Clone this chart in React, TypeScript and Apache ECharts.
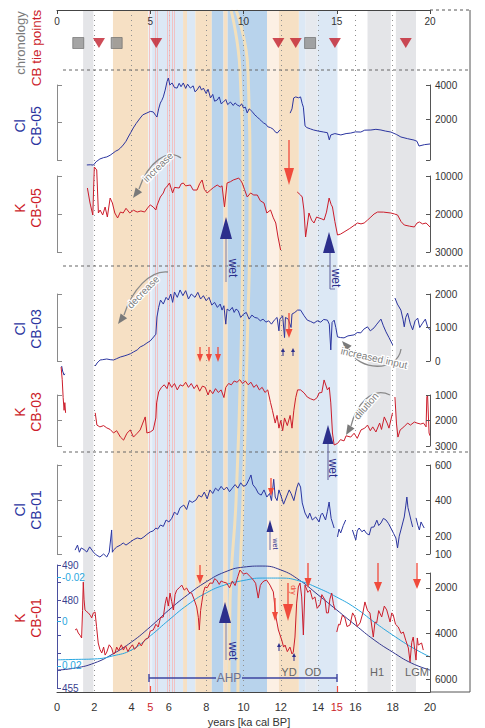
import React, { useEffect, useRef } from "react";
import * as echarts from "echarts";

const FONT = "'Liberation Sans', Arial, Helvetica, sans-serif";
const BLUE = "#2b35a0";
const NAVY = "#2c2f8c";
const RED = "#cc1d2b";
const LRED = "#f04b3c";
const CYAN = "#29a7e0";

// ---------- DATA ----------
const chronoSquares = [1.14, 3.2, 13.57];
const chronoTriangles = [2.25, 5.32, 11.87, 12.8, 14.9, 18.7];

const bands: [number, number, string][] = [
  [1.4, 1.95, "gray"], [3.0, 4.9, "orange"], [4.9, 5.1, "paleblue"], [5.1, 6.76, "lightblue"],
  [6.76, 6.97, "orange"], [6.97, 7.42, "lightblue"], [7.42, 8.3, "orange"], [8.3, 8.93, "blue"],
  [8.93, 9.15, "orange"], [9.15, 11.26, "blue"], [11.26, 11.9, "paleorange"], [11.9, 12.97, "orange"],
  [12.97, 13.33, "lightblue"], [13.33, 13.96, "lightgray"], [13.96, 15.04, "lightblue"],
  [16.65, 17.9, "gray"], [18.17, 19.25, "gray"],
];
const evenYears = [2, 4, 6, 8, 10, 12, 14, 16, 18];
const pinkLines = [4.96, 5.27, 5.36, 5.92, 6.03, 6.16, 6.3];
const stripe1 = [[9.33, 0], [9.81, 0.088], [9.97, 0.28], [9.87, 0.5], [9.6, 0.72], [9.28, 0.865], [9.22, 1]];
const stripe2 = [[9.6, 0], [10.24, 0.088], [10.35, 0.28], [10.19, 0.5], [9.97, 0.72], [9.76, 0.865], [9.7, 1]];

const clCB05: any[] = [[1.6,-690],[1.8,-680],[1.95,-700],[2.1,-500],[2.3,-340],[2.5,-260],[2.67,-220],[2.85,-120],[3.0,0],[3.15,120],[3.28,190],[3.4,300],[3.55,480],[3.7,700],[3.82,950],[3.95,1200],[4.09,1480],[4.25,1750],[4.46,2060],[4.6,2250],[4.82,2360],[5.0,2450],[5.16,2420],[5.3,2200],[5.36,2120],[5.45,2600],[5.54,2940],[5.62,3100],[5.7,3300],[5.8,3700],[5.9,4200],[5.97,4410],[6.05,4000],[6.17,4120],[6.3,3850],[6.44,3820],[6.55,4100],[6.65,3900],[6.77,4120],[6.9,3800],[7.0,4050],[7.15,3820],[7.3,3950],[7.4,3600],[7.51,3710],[7.65,3950],[7.75,3700],[7.85,3820],[8.0,3500],[8.1,3750],[8.23,3240],[8.35,3450],[8.45,3050],[8.59,3120],[8.7,3300],[8.8,2900],[8.92,3000],[9.05,3150],[9.15,2850],[9.3,3000],[9.45,2800],[9.55,2950],[9.66,2830],[9.8,2750],[9.9,2900],[10.0,2650],[10.1,2700],[10.2,2360],[10.3,2600],[10.38,2530],[10.5,2400],[10.6,2250],[10.74,2120],[10.85,2000],[10.95,1900],[11.08,1770],[11.2,1700],[11.3,1550],[11.45,1500],[11.6,1400],[11.7,1250],[11.81,1180],[11.9,1300],[11.99,1400],[12.2,"-"],[12.5,2350],[12.6,2600],[12.69,3240],[12.8,3300],[12.95,3250],[13.06,3300],[13.15,2900],[13.21,2700],[13.3,1600],[13.4,1500],[13.6,1420],[13.76,1360],[14.0,1300],[14.3,1240],[14.5,1200],[14.6,780],[14.68,1070],[14.9,1150],[15.22,1070],[15.5,1150],[15.75,1180],[16.0,1250],[16.29,1240],[16.5,1350],[16.83,1360],[17.1,1400],[17.37,1360],[17.6,1300],[17.9,1240],[18.2,1100],[18.44,950],[18.8,850],[19.14,770],[19.3,700],[19.41,420],[19.7,500],[20.0,540]];

const kCB05: any[] = [[1.63,13160],[1.77,17100],[1.92,20260],[2.0,7630],[2.13,8420],[2.22,19740],[2.31,18950],[2.45,20260],[2.58,18160],[2.7,20790],[2.85,15790],[2.97,17100],[3.1,19740],[3.25,21050],[3.4,19480],[3.55,19740],[3.7,18500],[3.9,19740],[4.1,19000],[4.3,19480],[4.5,19200],[4.7,19480],[4.9,18160],[5.0,17600],[5.16,18160],[5.3,18950],[5.36,17800],[5.54,15530],[5.7,14470],[5.8,13200],[5.88,12900],[6.03,11840],[6.2,14470],[6.3,13000],[6.55,13160],[6.65,12100],[6.77,11840],[6.9,12600],[7.15,12370],[7.3,13700],[7.51,13690],[7.65,12000],[7.78,11050],[7.9,13500],[8.05,14470],[8.23,13690],[8.4,13000],[8.59,12370],[8.75,12900],[8.85,12600],[8.98,18160],[9.12,11840],[9.3,11500],[9.45,11050],[9.6,10800],[9.74,10530],[9.85,11200],[9.93,11840],[10.05,13500],[10.2,15530],[10.38,14470],[10.55,15000],[10.74,15000],[10.9,16500],[11.1,17110],[11.25,19740],[11.45,18950],[11.6,21000],[11.73,22370],[11.85,26050],[11.99,29480],[12.4,"-"],[12.88,14210],[13.06,15000],[13.15,15530],[13.24,18950],[13.33,26050],[13.51,19740],[13.65,21600],[13.78,22370],[13.92,20800],[14.05,21050],[14.2,21300],[14.32,21580],[14.45,19500],[14.59,15800],[14.7,17500],[14.77,18160],[14.9,22000],[15.04,25530],[15.2,25300],[15.39,24740],[15.7,23800],[16.11,22370],[16.3,22600],[16.47,22370],[16.65,21600],[16.83,20790],[17.0,20000],[17.19,19480],[17.5,19500],[17.9,19740],[18.1,20000],[18.26,20260],[18.45,22000],[18.62,22900],[18.9,23200],[19.16,23420],[19.3,22400],[19.43,22100],[19.6,22600],[19.79,22370],[20.0,23420]];

const clCB03: any[] = [[0.25,-150],[0.3,-300],[0.38,-420],[0.42,-380],[1.0,"-"],[2.05,-150],[2.15,-60],[2.31,30],[2.45,40],[2.67,60],[2.85,40],[3.03,30],[3.2,70],[3.4,119],[3.6,150],[3.76,179],[3.95,220],[4.1,269],[4.3,330],[4.46,418],[4.65,470],[4.82,537],[5.0,600],[5.18,716],[5.3,800],[5.36,1313],[5.45,1600],[5.55,1820],[5.7,1700],[5.85,1900],[5.97,1820],[6.1,2000],[6.2,1750],[6.3,2060],[6.45,1900],[6.6,2120],[6.75,1950],[6.9,2100],[7.05,1850],[7.2,2000],[7.4,1900],[7.55,2050],[7.7,1850],[7.85,1950],[8.0,1800],[8.15,1900],[8.3,1670],[8.45,1750],[8.6,1600],[8.75,1700],[8.85,1520],[8.95,1650],[9.05,1100],[9.12,1550],[9.25,1500],[9.4,1600],[9.5,1450],[9.6,1550],[9.72,1500],[9.85,1300],[10.0,1400],[10.15,1450],[10.3,1250],[10.45,1370],[10.6,1300],[10.75,1280],[10.9,1200],[11.05,1250],[11.2,1160],[11.35,1200],[11.5,1100],[11.65,1220],[11.8,1300],[11.9,900],[11.95,1250],[12.1,1350],[12.2,700],[12.25,1300],[12.4,1250],[12.55,1000],[12.6,1400],[12.75,1450],[12.9,1520],[13.06,1520],[13.25,1350],[13.42,1220],[13.6,1180],[13.78,1130],[13.95,1200],[14.14,1160],[14.3,1240],[14.5,1220],[14.6,1100],[14.68,330],[14.75,1150],[14.86,1220],[14.95,1000],[15.04,720],[15.2,700],[15.39,690],[15.6,750],[15.93,780],[16.1,850],[16.29,840],[16.45,950],[16.65,1020],[16.8,900],[17.0,990],[17.15,1100],[17.37,1250],[17.5,1050],[17.64,870],[17.8,700],[18.0,480],[18.06,"-"],[18.12,1880],[18.25,1700],[18.44,1520],[18.55,1250],[18.62,1020],[18.7,1300],[18.8,1430],[18.95,1100],[19.07,930],[19.2,1200],[19.34,1280],[19.45,1000],[19.6,1130],[19.75,1250],[19.87,1020],[20.0,930]];

const kCB03: any[] = [[0.22,-100],[0.28,400],[0.33,1100],[0.38,1600],[0.42,1300],[0.46,1700],[1.0,"-"],[2.05,1700],[2.14,2180],[2.3,2250],[2.5,2200],[2.67,2290],[2.85,2350],[3.03,2490],[3.2,2400],[3.4,2650],[3.57,2770],[3.75,2500],[3.93,2370],[4.1,2650],[4.3,2500],[4.46,2370],[4.6,2100],[4.73,1860],[4.82,2490],[5.0,2450],[5.16,2370],[5.3,1900],[5.34,1310],[5.45,880],[5.6,700],[5.75,600],[5.9,750],[6.0,500],[6.15,700],[6.3,550],[6.45,800],[6.6,600],[6.75,650],[6.9,500],[7.05,700],[7.2,550],[7.35,750],[7.5,600],[7.65,850],[7.8,650],[7.95,700],[8.1,1000],[8.2,800],[8.35,950],[8.5,750],[8.65,900],[8.8,800],[8.95,1100],[9.05,700],[9.2,550],[9.35,600],[9.5,450],[9.65,500],[9.8,400],[9.95,550],[10.1,450],[10.25,600],[10.4,500],[10.55,700],[10.7,600],[10.85,800],[11.0,700],[11.15,900],[11.3,800],[11.45,1300],[11.55,1600],[11.7,2100],[11.8,1800],[11.9,2300],[12.0,2000],[12.1,2400],[12.2,1900],[12.35,2200],[12.5,1800],[12.6,2300],[12.7,1600],[12.8,1100],[12.9,800],[13.06,800],[13.25,920],[13.42,1080],[13.6,1150],[13.78,1200],[13.95,1100],[14.05,920],[14.2,900],[14.32,410],[14.5,800],[14.6,700],[14.68,1310],[14.77,2490],[14.86,2960],[15.04,2900],[15.2,2750],[15.39,2800],[15.5,2600],[15.75,2650],[15.93,2500],[16.1,2700],[16.3,2370],[16.5,2300],[16.65,2180],[16.8,2400],[16.93,2250],[17.1,2450],[17.3,2100],[17.4,2350],[17.55,1860],[17.7,2100],[17.8,2300],[17.99,1700],[18.06,"-"],[18.12,1080],[18.2,2100],[18.28,2650],[18.4,2370],[18.6,2250],[18.8,2100],[18.95,2180],[19.16,2060],[19.3,2100],[19.5,2140],[19.65,2100],[19.79,2250],[19.83,1080],[19.87,1000],[19.95,2490],[20.0,2600]];

const clCB01: any[] = [[0.97,122],[1.1,150],[1.2,110],[1.3,134],[1.45,125],[1.6,111],[1.75,140],[1.95,111],[2.1,95],[2.3,83],[2.5,100],[2.67,83],[2.8,110],[2.93,235],[2.97,110],[3.03,122],[3.2,139],[3.4,150],[3.55,162],[3.7,150],[3.93,167],[4.1,180],[4.3,190],[4.5,185],[4.66,196],[4.82,210],[5.0,224],[5.16,230],[5.3,246],[5.4,240],[5.55,263],[5.7,255],[5.85,291],[6.0,280],[6.15,300],[6.3,336],[6.45,320],[6.6,360],[6.8,375],[6.95,350],[7.1,400],[7.25,390],[7.45,403],[7.6,430],[7.75,420],[7.9,448],[8.05,410],[8.2,460],[8.35,440],[8.5,470],[8.65,455],[8.8,480],[8.95,460],[9.1,476],[9.25,450],[9.4,470],[9.55,490],[9.7,470],[9.85,500],[10.0,480],[10.15,488],[10.3,520],[10.4,544],[10.5,490],[10.65,470],[10.8,440],[10.95,431],[11.1,460],[11.25,420],[11.4,440],[11.5,400],[11.62,520],[11.7,420],[11.8,400],[11.9,460],[12.0,430],[12.15,380],[12.3,420],[12.45,460],[12.55,440],[12.7,400],[12.85,470],[12.95,500],[13.06,476],[13.15,387],[13.3,330],[13.45,300],[13.55,330],[13.69,291],[13.87,308],[14.05,280],[14.15,320],[14.23,330],[14.4,291],[14.5,340],[14.59,392],[14.7,300],[14.86,246],[14.95,"-"],[15.04,196],[15.12,240],[15.21,218],[15.35,260],[15.48,291],[15.6,"-"],[15.84,235],[15.95,200],[16.02,179],[16.1,230],[16.2,246],[16.35,225],[16.47,235],[16.6,215],[16.74,207],[16.85,250],[17.0,252],[17.15,290],[17.25,260],[17.37,274],[17.5,300],[17.64,291],[17.78,270],[17.9,246],[18.05,215],[18.17,190],[18.26,134],[18.35,200],[18.44,235],[18.55,280],[18.62,308],[18.7,370],[18.76,420],[18.82,360],[18.89,330],[18.98,290],[19.07,252],[19.15,"-"],[19.25,303],[19.35,260],[19.43,235],[19.52,280],[19.6,263],[19.69,246]];

const kCB01: any[] = [[0.97,3850],[1.05,3800],[1.14,3980],[1.25,4100],[1.32,4200],[1.37,3000],[1.41,1750],[1.45,2500],[1.5,2970],[1.6,3050],[1.68,3100],[1.78,3200],[1.86,3320],[1.95,3100],[2.04,3060],[2.12,3700],[2.21,4420],[2.3,4700],[2.4,4860],[2.5,4600],[2.58,4950],[2.67,4820],[2.8,4500],[2.93,4640],[3.02,4900],[3.11,4860],[3.2,4600],[3.3,4750],[3.45,4500],[3.56,4730],[3.68,4550],[3.8,4800],[3.91,4640],[4.05,4500],[4.15,4700],[4.27,4600],[4.4,4400],[4.52,4550],[4.63,4380],[4.75,4250],[4.9,4200],[5.0,3900],[5.16,3850],[5.3,3600],[5.43,3720],[5.55,3300],[5.7,3280],[5.8,2700],[5.88,2400],[5.97,2800],[6.06,2230],[6.15,2600],[6.24,2970],[6.33,2300],[6.42,2100],[6.55,2000],[6.69,1880],[6.82,2100],[6.95,2010],[7.08,2200],[7.22,2230],[7.35,2500],[7.49,2840],[7.58,3300],[7.63,3850],[7.7,3000],[7.76,2660],[7.85,2200],[7.94,1960],[8.05,2000],[8.2,1790],[8.35,1800],[8.45,1600],[8.56,1660],[8.7,1850],[8.8,1700],[8.92,1750],[9.1,1790],[9.25,2000],[9.4,1700],[9.55,1900],[9.7,1500],[9.81,1220],[10.0,1400],[10.17,1350],[10.35,1500],[10.53,1660],[10.65,1800],[10.79,2450],[10.9,1900],[10.98,1790],[11.1,1700],[11.24,1660],[11.42,1880],[11.6,2180],[11.74,3280],[11.87,3850],[12.05,4290],[12.15,4600],[12.23,4510],[12.35,4800],[12.49,4600],[12.6,4900],[12.67,4820],[12.76,4160],[12.85,2670],[12.94,1960],[13.03,1790],[13.12,2400],[13.21,4070],[13.3,1880],[13.45,2200],[13.57,2100],[13.7,2500],[13.83,2400],[13.95,2900],[14.1,2750],[14.2,2300],[14.37,2530],[14.45,3100],[14.55,3100],[14.63,2500],[14.73,2230],[14.82,2700],[14.91,2970],[14.95,"-"],[15.0,3940],[15.1,3600],[15.17,3630],[15.3,3200],[15.44,3320],[15.55,3700],[15.71,3630],[15.85,3100],[15.98,3280],[16.1,3700],[16.25,3540],[16.4,3100],[16.51,2620],[16.65,3000],[16.78,3100],[16.96,4160],[17.05,3500],[17.14,3540],[17.25,3000],[17.41,3280],[17.55,2800],[17.68,2970],[17.86,3500],[17.95,3100],[18.03,3190],[18.15,3600],[18.3,3720],[18.45,4000],[18.57,3940],[18.7,4300],[18.84,4640],[18.93,5250],[19.02,4400],[19.1,4160],[19.18,4700],[19.25,5170],[19.32,4200],[19.37,4510],[19.55,4420],[19.64,4730]];

const orbitYears = [0,1,2,3,4,5,6,7,8,9,10,11,12,13,14,15,16,17,18,19,20];
const insolation = [460.1,460.7,462.1,464.7,468.1,472.4,477.2,481.5,485.2,488.0,489.4,489.7,488.6,485.7,481.5,477.2,472.9,468.7,465.2,462.1,460.1];
const precession = [0.0173,0.0171,0.0169,0.0155,0.0128,0.0065,-0.0007,-0.0075,-0.0129,-0.0165,-0.0185,-0.0196,-0.0196,-0.0183,-0.0151,-0.011,-0.0061,0.0002,0.0061,0.0115,0.016];

const topTicks = [0, 5, 10, 15, 20];
const bottomLabels = [0, 2, 4, 5, 6, 8, 10, 12, 14, 15, 16, 18, 20];

// ---------- STYLES ----------
const BAND_COLORS: Record<string, string> = {
  gray: "#e4e5e8", lightgray: "#e6e9ee", orange: "#f6e0c4", paleorange: "#fcf0e4",
  lightblue: "#dce8f5", paleblue: "#e9f1f9", blue: "#b8d3ec",
};

function rightAxis(gridIndex: number, min: number, max: number, inverse: boolean, ticks: number[], labels: number[]) {
  return {
    type: "value", gridIndex, position: "right", min, max, inverse, z: 20,
    axisLine: { show: true, onZero: false, lineStyle: { color: "#555", width: 1 } },
    axisTick: { show: true, inside: true, length: 4, customValues: ticks, lineStyle: { color: "#555" } },
    axisLabel: { show: true, customValues: labels, fontSize: 10, color: "#333", margin: 5, fontFamily: FONT, formatter: (v: number) => String(v) },
    splitLine: { show: false },
  };
}
function leftBracket(gridIndex: number, min: number, max: number, inverse: boolean, ticks: number[]) {
  return {
    type: "value", gridIndex, position: "left", min, max, inverse, z: 20,
    axisLine: { show: true, onZero: false, lineStyle: { color: "#8a8a8a", width: 1 } },
    axisTick: { show: true, inside: true, length: 5, customValues: ticks, lineStyle: { color: "#8a8a8a" } },
    axisLabel: { show: false },
    splitLine: { show: false },
  };
}

function buildGraphics() {
  const g: any[] = [];
  const line = (x1: number, y1: number, x2: number, y2: number, stroke: string, lw = 1, dash?: number[]) =>
    g.push({ type: "line", silent: true, z: 50, shape: { x1, y1, x2, y2 }, style: { stroke, lineWidth: lw, lineDash: dash } });
  const poly = (pts: number[][], fill: string) => g.push({ type: "polygon", silent: true, z: 51, shape: { points: pts }, style: { fill } });
  const text = (x: number, y: number, t: string, fill: string, size: number, rot = 0, extra: any = {}) =>
    g.push({ type: "text", silent: true, z: 52, x, y, rotation: rot, style: { text: t, fill, fontSize: size, fontFamily: FONT, align: "center", verticalAlign: "middle", ...extra } });
  const head = (tx: number, ty: number, ang: number, len: number, wid: number, fill: string) => {
    const bx = tx - len * Math.cos(ang), by = ty - len * Math.sin(ang);
    const px = -Math.sin(ang) * wid / 2, py = Math.cos(ang) * wid / 2;
    poly([[tx, ty], [bx + px, by + py], [bx - px, by - py]], fill);
  };
  const curve = (x1: number, y1: number, c1x: number, c1y: number, c2x: number, c2y: number, x2: number, y2: number) =>
    g.push({ type: "bezierCurve", silent: true, z: 50, shape: { x1, y1, cpx1: c1x, cpy1: c1y, cpx2: c2x, cpy2: c2y, x2, y2 }, style: { stroke: "#8a8a8a", lineWidth: 1.3, fill: null } });
  const redArrow = (x: number, y1: number, y2: number, hl: number, w: number) => {
    line(x, y1, x, y2 - hl + 1, LRED, 1.3);
    poly([[x - w / 2, y2 - hl], [x + w / 2, y2 - hl], [x, y2]], LRED);
  };
  const navyTri = (x: number, yTop: number, yBot: number, w: number) => poly([[x, yTop], [x - w / 2, yBot], [x + w / 2, yBot]], NAVY);
  const smallUp = (x: number, y1: number, y2: number) => { line(x, y1 + 3, x, y2, NAVY, 1); poly([[x, y1], [x - 2, y1 + 4], [x + 2, y1 + 4]], NAVY); };

  // frame
  line(430, 10, 470, 10, "#555", 1, [3, 3]);
  line(470, 10, 470, 692, "#555", 1);
  line(430, 692, 470, 692, "#555", 1);
  [70, 266, 452].forEach((y) => line(63, y, 470, y, "#666", 1.2, [3, 3]));

  // left labels
  text(20, 43, "chronology", "#7a7a7a", 13, Math.PI / 2);
  text(36, 48, "CB tie points", RED, 13.5, Math.PI / 2);
  const lab = (y: number, a: string, b: string, c: string) => { text(20, y, a, c, 14, Math.PI / 2); text(36, y, b, c, 14, Math.PI / 2); };
  lab(126, "Cl", "CB-05", BLUE);
  lab(208, "K", "CB-05", RED);
  lab(329, "Cl", "CB-03", BLUE);
  lab(412, "K", "CB-03", RED);
  lab(510, "Cl", "CB-01", BLUE);
  lab(618, "K", "CB-01", RED);

  // gray curved arrows
  curve(181, 158, 168, 148, 148, 162, 139, 189); head(133, 198, 2.2, 10, 8, "#7a7a7a");
  text(158, 167, "increase", "#808080", 10, 0.78, { stroke: "#fff", lineWidth: 2.5 });
  curve(168, 272, 150, 270, 132, 290, 124, 315); head(118, 324, 2.2, 10, 8, "#7a7a7a");
  text(143, 292, "decrease", "#808080", 10, 0.8, { stroke: "#fff", lineWidth: 2.5 });
  curve(401, 349, 398, 372, 358, 372, 349, 349); head(342, 341, -2.3, 10, 8, "#7a7a7a");
  text(374, 358, "increased input", "#808080", 10, -0.22, { stroke: "#fff", lineWidth: 2.5 });
  curve(390, 395, 372, 386, 356, 405, 351, 426); head(346, 435, 2.1, 10, 8, "#7a7a7a");
  text(366, 406, "dilution", "#808080", 10, 0.85, { stroke: "#fff", lineWidth: 2.5 });

  // navy "wet" arrows
  navyTri(226, 217, 239, 12); line(226, 239, 226, 282, "#8c8fb5", 1.2); text(233, 268, "wet", NAVY, 12, -Math.PI / 2);
  navyTri(329, 232, 253, 12); line(330, 253, 330, 289, "#6f73a8", 1.2); line(330, 289, 335, 289, "#6f73a8", 1); text(336, 278, "wet", NAVY, 12, -Math.PI / 2);
  navyTri(328, 425, 444, 11); line(328, 444, 328, 480, "#6f73a8", 1.2); text(333, 468, "wet", NAVY, 12, -Math.PI / 2);
  navyTri(225, 602, 623, 12); line(226, 623, 226, 660, "#8c8fb5", 1.2); text(233, 651, "wet", NAVY, 12, -Math.PI / 2);
  navyTri(270, 520, 532, 7); line(270, 532, 270, 550, "#6f73a8", 1); text(275, 544, "wet", NAVY, 7, -Math.PI / 2);
  smallUp(283, 348, 356); smallUp(293, 348, 356); smallUp(279, 643, 651); smallUp(294, 653, 661);

  // red arrows
  redArrow(289, 140, 185, 17, 10);
  redArrow(289, 313, 338, 9, 7);
  redArrow(200, 347, 362, 8, 6); redArrow(209, 347, 362, 8, 6); redArrow(218, 347, 362, 8, 6);
  redArrow(271, 478, 496, 8, 6);
  redArrow(200, 565, 584, 9, 7);
  redArrow(275, 598, 621, 9, 6);
  redArrow(288, 583, 621, 17, 10);
  text(293, 590, "dry", LRED, 7, -Math.PI / 2);
  redArrow(308, 563, 588, 10, 7);
  redArrow(378, 563, 592, 10, 8);
  redArrow(417, 563, 589, 10, 8);

  // period labels
  line(149, 678, 216, 678, "#3d45a0", 1.6); line(242, 678, 337, 678, "#3d45a0", 1.6);
  line(149, 674, 149, 682, "#3d45a0", 1.4); line(337, 674, 337, 682, "#3d45a0", 1.4);
  text(229, 678, "AHP", "#6c7090", 12);
  text(289, 672, "YD", "#666", 11);
  text(313, 672, "OD", "#666", 11);
  text(377, 672, "H1", "#666", 11);
  text(417, 672, "LGM", "#666", 11);
  text(249, 722, "years [ka cal BP]", "#333", 11);
  return g;
}

function buildOption() {
  const L = 57, R = 55;
  const grid = [
    { left: L, right: R, top: 10, bottom: 36 },
    { left: L, right: R, top: 85, height: 75 },
    { left: L, right: R, top: 176, height: 76 },
    { left: L, right: R, top: 294, height: 67 },
    { left: L, right: R, top: 395, height: 51 },
    { left: L, right: R, top: 465, height: 89 },
    { left: L, right: R, top: 573, height: 119 },
    { left: L, right: R, top: 565, height: 123 },
    { left: L, right: R, top: 37, height: 12 },
  ];
  const xAxis: any[] = [
    {
      type: "value", gridIndex: 0, position: "top", min: 0, max: 20, interval: 5, z: 20,
      axisLine: { show: true, onZero: false, lineStyle: { color: "#444" } },
      axisTick: { show: true, inside: true, length: 4, customValues: topTicks, lineStyle: { color: "#444" } },
      axisLabel: { show: true, inside: true, margin: 6, fontSize: 10, color: "#333", fontFamily: FONT, customValues: topTicks },
      splitLine: { show: false },
    },
    {
      type: "value", gridIndex: 0, position: "bottom", min: 0, max: 20, interval: 1, z: 20,
      axisLine: { show: true, onZero: false, lineStyle: { color: "#444" } },
      axisTick: { show: true, inside: true, length: 6, customValues: [5, 15], lineStyle: { color: LRED, width: 1.2 } },
      axisLabel: {
        show: true, margin: 9, fontSize: 11, color: "#333", fontFamily: FONT, customValues: bottomLabels,
        formatter: (v: number) => (v === 5 || v === 15 ? `{r|${v}}` : `${v}`),
        rich: { r: { color: RED, fontSize: 11, fontFamily: FONT } },
      },
      splitLine: { show: false },
    },
  ];
  for (let i = 1; i <= 8; i++) xAxis.push({ type: "value", gridIndex: i, min: 0, max: 20, show: false });

  const yAxis: any[] = [
    { type: "value", gridIndex: 0, min: 0, max: 1, inverse: true, show: false },
    rightAxis(1, -400, 4000, false, [-400, 2000, 4000], [2000, 4000]),
    leftBracket(1, -400, 4000, false, [-400, 1800, 4000]),
    rightAxis(2, 10000, 30000, true, [10000, 20000, 30000], [10000, 20000, 30000]),
    leftBracket(2, 10000, 30000, true, [10000, 20000, 30000]),
    rightAxis(3, 0, 2000, false, [0, 1000, 2000], [0, 1000, 2000]),
    leftBracket(3, 0, 2000, false, [0, 1000, 2000]),
    rightAxis(4, 1000, 3000, true, [1000, 2000, 3000], [1000, 2000, 3000]),
    leftBracket(4, 1000, 3000, true, [1000, 2000, 3000]),
    rightAxis(5, 100, 600, false, [100, 200, 400, 600], [100, 200, 400, 600]),
    leftBracket(5, 100, 600, false, [100, 200, 400, 600]),
    rightAxis(6, 1350, 6570, true, [1350, 2000, 3000, 4000, 5000, 6000], [2000, 4000, 6000]),
    {
      type: "value", gridIndex: 7, position: "left", min: 455, max: 490, interval: 5, z: 20,
      axisLine: { show: true, onZero: false, lineStyle: { color: "#4a4f9e" } },
      axisTick: { show: true, inside: true, length: 4, lineStyle: { color: "#4a4f9e" } },
      axisLabel: { show: true, inside: true, margin: 5, fontSize: 10, color: "#3a3f8f", fontFamily: FONT, customValues: [455, 480, 490] },
      splitLine: { show: false },
    },
    {
      type: "value", gridIndex: 7, position: "left", min: -0.0255, max: 0.03, inverse: true, z: 20,
      axisLine: { show: false },
      axisTick: { show: true, inside: true, length: 4, customValues: [-0.02, 0, 0.02], lineStyle: { color: CYAN } },
      axisLabel: { show: true, inside: true, margin: 5, fontSize: 10, color: CYAN, fontFamily: FONT, customValues: [-0.02, 0, 0.02], formatter: (v: number) => (v === 0 ? "0" : v.toFixed(2)) },
      splitLine: { show: false },
    },
    { type: "value", gridIndex: 8, min: -1, max: 1, show: false },
  ];

  const dataLine = (xi: number, yi: number, data: any[], color: string, w = 1, smooth = false) => ({
    type: "line", xAxisIndex: xi, yAxisIndex: yi, data, symbol: "none", showSymbol: false, clip: false, smooth,
    connectNulls: false, silent: true, z: 5, lineStyle: { color, width: w }, emphasis: { disabled: true },
  });

  const series: any[] = [
    {
      type: "line", xAxisIndex: 0, yAxisIndex: 0, data: [[0, 0]], symbol: "none", lineStyle: { opacity: 0 }, silent: true, z: 1,
      markArea: { silent: true, data: bands.map(([a, b, k]) => [{ xAxis: a, itemStyle: { color: BAND_COLORS[k] } }, { xAxis: b }]) },
    },
    {
      type: "line", xAxisIndex: 0, yAxisIndex: 0, data: stripe1, symbol: "none", smooth: true, silent: true, z: 2,
      lineStyle: { color: "#f3e0bb", width: 3 },
    },
    {
      type: "line", xAxisIndex: 0, yAxisIndex: 0, data: stripe2, symbol: "none", smooth: true, silent: true, z: 2,
      lineStyle: { color: "#f3e0bb", width: 3 },
    },
    {
      type: "line", xAxisIndex: 0, yAxisIndex: 0, data: [[0, 0]], symbol: "none", lineStyle: { opacity: 0 }, silent: true, z: 3,
      markLine: { silent: true, symbol: ["none", "none"], label: { show: false }, lineStyle: { type: [1, 4], color: "#8f8f8f", width: 1 }, data: evenYears.map((v) => ({ xAxis: v })) },
    },
    {
      type: "line", xAxisIndex: 0, yAxisIndex: 0, data: [[0, 0]], symbol: "none", lineStyle: { opacity: 0 }, silent: true, z: 3,
      markLine: { silent: true, symbol: ["none", "none"], label: { show: false }, lineStyle: { type: "solid", color: "#f5b8b8", width: 0.8 }, data: pinkLines.map((v) => ({ xAxis: v })) },
    },
    dataLine(2, 1, clCB05, BLUE),
    dataLine(3, 3, kCB05, RED),
    dataLine(4, 5, clCB03, BLUE),
    dataLine(5, 7, kCB03, RED),
    dataLine(6, 9, clCB01, BLUE),
    dataLine(8, 12, orbitYears.map((y, i) => [y, insolation[i]]), "#34378f", 1, true),
    dataLine(8, 13, orbitYears.map((y, i) => [y, precession[i]]), CYAN, 1, true),
    dataLine(7, 11, kCB01, RED),
    {
      type: "scatter", xAxisIndex: 9, yAxisIndex: 14, symbol: "rect", symbolSize: 11, silent: true, z: 6,
      itemStyle: { color: "#8e8e8e", borderColor: "#666", borderWidth: 0.8 }, data: chronoSquares.map((v) => [v, 0]),
    },
    {
      type: "scatter", xAxisIndex: 9, yAxisIndex: 14, symbol: "triangle", symbolRotate: 180, symbolSize: [12, 10], silent: true, z: 6,
      itemStyle: { color: "#c21f2d" }, data: chronoTriangles.map((v) => [v, 0]),
    },
  ];

  return {
    animation: false,
    backgroundColor: "#fff",
    textStyle: { fontFamily: FONT },
    grid, xAxis, yAxis, series,
    graphic: { elements: buildGraphics() },
  };
}

export default function App() {
  const ref = useRef<HTMLDivElement>(null);
  useEffect(() => {
    if (!ref.current) return;
    const chart = echarts.init(ref.current, undefined, { renderer: "svg" });
    chart.setOption(buildOption() as any);
    return () => chart.dispose();
  }, []);
  return <div ref={ref} style={{ position: "fixed", left: 0, top: 0, width: 485, height: 728, background: "#fff" }} />;
}
